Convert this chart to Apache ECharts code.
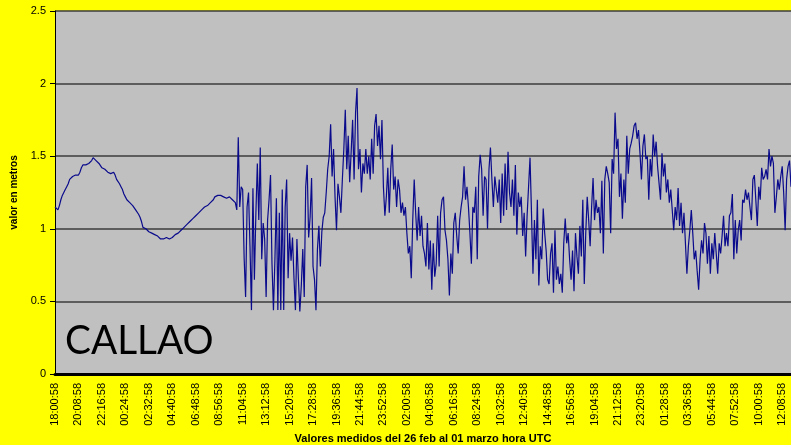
<!DOCTYPE html>
<html>
<head>
<meta charset="utf-8">
<script src="https://cdn.jsdelivr.net/npm/echarts@6/dist/echarts.min.js"></script>
<style>
  html, body { margin: 0; padding: 0; background: #FFFF00; }
  #chart { width: 791px; height: 445px; }
</style>
</head>
<body>
<div id="chart"></div>
<script>
// Sea level at Callao, one reading every 8 minutes from 18:00:58 UTC (metres)
const startTime = '18:00:58';
const stepMinutes = 8;
const labelEvery = 16; // one axis label every 128 minutes

const seaLevel = [
  1.15, 1.14, 1.13, 1.16, 1.20, 1.23, 1.25, 1.27, 1.29, 1.31,
  1.34, 1.35, 1.36, 1.36, 1.37, 1.36, 1.37, 1.39, 1.42, 1.44,
  1.44, 1.44, 1.45, 1.45, 1.46, 1.47, 1.49, 1.48, 1.47, 1.46,
  1.45, 1.44, 1.42, 1.41, 1.41, 1.40, 1.39, 1.39, 1.38, 1.39,
  1.39, 1.37, 1.34, 1.33, 1.31, 1.29, 1.27, 1.24, 1.22, 1.20,
  1.19, 1.18, 1.17, 1.16, 1.15, 1.13, 1.12, 1.10, 1.08, 1.05,
  1.01, 1.00, 1.00, 0.99, 0.98, 0.98, 0.97, 0.97, 0.96, 0.95,
  0.95, 0.94, 0.93, 0.94, 0.93, 0.94, 0.94, 0.93, 0.93, 0.92,
  0.94, 0.95, 0.96, 0.96, 0.97, 0.98, 0.99, 1.00, 1.01, 1.02,
  1.03, 1.04, 1.05, 1.06, 1.07, 1.08, 1.09, 1.10, 1.11, 1.11,
  1.13, 1.14, 1.15, 1.16, 1.16, 1.17, 1.18, 1.19, 1.20, 1.22,
  1.22, 1.23, 1.24, 1.23, 1.23, 1.22, 1.22, 1.21, 1.20, 1.22,
  1.22, 1.20, 1.21, 1.18, 1.13, 1.63, 1.15, 1.29, 1.27, 0.80,
  0.53, 1.15, 1.25, 0.88, 0.44, 1.28, 0.65, 1.10, 1.45, 1.06,
  1.56, 0.79, 1.04, 0.93, 0.53, 1.06, 1.20, 1.37, 0.76, 0.44,
  0.79, 1.21, 0.44, 1.11, 0.44, 1.27, 0.44, 1.15, 1.34, 0.66,
  0.97, 0.78, 0.94, 0.66, 0.44, 0.93, 0.66, 0.43, 0.61, 0.86,
  0.53, 1.29, 1.44, 0.94, 1.08, 1.35, 0.74, 0.65, 0.44, 0.86,
  1.02, 0.74, 0.98, 1.08, 1.11, 1.25, 1.41, 1.50, 1.72, 1.36,
  1.55, 1.22, 0.99, 1.31, 1.22, 1.11, 1.34, 1.55, 1.82, 1.41,
  1.64, 1.32, 1.53, 1.75, 1.34, 1.80, 1.97, 1.41, 1.55, 1.25,
  1.45, 1.38, 1.55, 1.38, 1.50, 1.34, 1.62, 1.38, 1.71, 1.79,
  1.57, 1.71, 1.48, 1.75, 1.29, 1.09, 1.22, 1.42, 1.11, 1.41,
  1.58, 1.27, 1.36, 1.15, 1.34, 1.27, 1.11, 1.18, 1.09, 1.15,
  0.97, 0.83, 0.88, 0.66, 1.06, 1.34, 1.11, 0.92, 1.15, 0.95,
  1.09, 0.88, 0.83, 0.74, 1.04, 0.72, 0.92, 0.58, 0.90, 0.67,
  0.76, 1.09, 0.74, 1.11, 1.20, 1.22, 0.99, 0.92, 0.79, 0.54,
  0.83, 0.69, 1.04, 1.11, 0.95, 0.83, 1.06, 1.15, 1.22, 1.43,
  1.20, 1.29, 1.15, 0.97, 0.76, 1.15, 1.11, 1.29, 0.79, 1.36,
  1.51, 1.41, 1.09, 1.36, 1.34, 1.00, 1.41, 1.56, 1.34, 1.15,
  1.36, 1.36, 1.18, 1.34, 1.04, 1.38, 1.09, 1.45, 1.13, 1.53,
  1.25, 1.15, 1.34, 1.09, 1.44, 0.96, 1.25, 1.15, 1.22, 0.95,
  1.11, 0.81, 1.09, 1.29, 1.49, 1.11, 0.69, 1.06, 0.79, 1.20,
  0.61, 0.88, 0.79, 1.14, 0.97, 0.85, 0.65, 0.62, 0.83, 0.90,
  0.56, 0.99, 0.65, 0.74, 0.62, 0.69, 0.56, 0.90, 1.07, 0.90,
  0.97, 0.79, 0.65, 0.85, 0.57, 0.97, 0.81, 0.69, 1.02, 0.81,
  1.20, 0.62, 0.97, 1.22, 1.06, 0.88, 1.15, 1.35, 1.06, 1.20,
  1.11, 1.15, 0.97, 1.33, 0.83, 1.34, 1.43, 1.38, 1.32, 0.97,
  1.48, 1.38, 1.80, 1.55, 1.62, 1.22, 1.38, 1.07, 1.34, 1.18,
  1.64, 1.38, 1.55, 1.59, 1.64, 1.71, 1.73, 1.62, 1.68, 1.52,
  1.34, 1.57, 1.65, 1.48, 1.50, 1.20, 1.48, 1.36, 1.65, 1.50,
  1.60, 1.43, 1.43, 1.20, 1.52, 1.36, 1.45, 1.25, 1.34, 1.18,
  1.27, 1.13, 0.99, 1.15, 1.06, 1.28, 1.02, 1.18, 0.97, 1.11,
  1.12, 0.69, 0.88, 0.99, 1.13, 0.97, 0.79, 0.85, 0.71, 0.58,
  0.79, 0.92, 0.83, 1.04, 0.97, 0.76, 0.95, 0.69, 0.90, 0.79,
  0.97, 0.83, 0.69, 0.90, 0.83, 0.95, 1.09, 0.88, 0.97, 0.88,
  1.09, 1.11, 1.24, 0.79, 1.06, 0.83, 0.99, 1.06, 0.92, 1.20,
  1.18, 1.27, 1.20, 1.25, 1.15, 1.06, 1.34, 1.37, 1.20, 1.02,
  1.29, 1.20, 1.42, 1.34, 1.36, 1.41, 1.34, 1.55, 1.43, 1.50,
  1.45, 1.11, 1.22, 1.34, 1.27, 1.36, 1.43, 1.25, 0.99, 1.34,
  1.43, 1.47, 1.29
];

const yTicks = { min: 0, max: 2.5, step: 0.5 };
const stationName = 'CALLAO';
const xTitle = 'Valores medidos del 26 feb al 01 marzo hora UTC';
const yTitle = 'valor en metros';

// timestamps of the readings, hh:mm:ss
function pad(n) { return String(n).padStart(2, '0'); }
const [h0, m0, s0] = startTime.split(':').map(Number);
const times = seaLevel.map((_, i) => {
  const total = (h0 * 60 + m0 + i * stepMinutes) % 1440;
  return pad(Math.floor(total / 60)) + ':' + pad(total % 60) + ':' + pad(s0);
});

const font = '"Liberation Sans", Arial, sans-serif';
const chart = echarts.init(document.getElementById('chart'), null, { renderer: 'canvas' });

chart.setOption({
  backgroundColor: '#FFFF00',
  animation: false,
  grid: {
    left: 55, right: 0, top: 11, bottom: 71,
    outerBoundsMode: 'none',
    containLabel: false,
    show: true, backgroundColor: '#C0C0C0', borderWidth: 0
  },
  xAxis: {
    type: 'category',
    data: times,
    boundaryGap: false,
    name: xTitle,
    nameLocation: 'middle',
    nameGap: 55,
    nameTextStyle: { fontFamily: font, fontWeight: 'bold', fontSize: 11, color: '#000' },
    axisLine: { lineStyle: { color: '#000', width: 3 } },
    axisTick: { show: false },
    axisLabel: {
      interval: labelEvery - 1,
      rotate: 90,
      margin: 9,
      fontFamily: font, fontSize: 11, color: '#000'
    },
    splitLine: { show: false }
  },
  yAxis: {
    type: 'value',
    min: yTicks.min, max: yTicks.max, interval: yTicks.step,
    name: yTitle,
    nameLocation: 'middle',
    nameGap: 36,
    nameTextStyle: { fontFamily: font, fontWeight: 'bold', fontSize: 10, color: '#000' },
    axisLine: { show: true, lineStyle: { color: '#000', width: 1 } },
    axisTick: { show: true, inside: false, length: 5, lineStyle: { color: '#000' } },
    axisLabel: { margin: 9, fontFamily: font, fontSize: 11, color: '#000' },
    splitLine: { show: true, lineStyle: { color: '#3c3c3c', width: 1.5 } }
  },
  graphic: [{
    type: 'text',
    left: 65, top: 321,
    scaleX: 0.97,
    z: 100,
    style: { text: stationName, font: '40px Lato, "Open Sans", sans-serif', fill: '#000' }
  }],
  series: [{
    type: 'line',
    data: seaLevel,
    showSymbol: false,
    smooth: false,
    lineStyle: { color: '#0a0a8c', width: 1.2 },
    z: 3
  }]
});
</script>
</body>
</html>
